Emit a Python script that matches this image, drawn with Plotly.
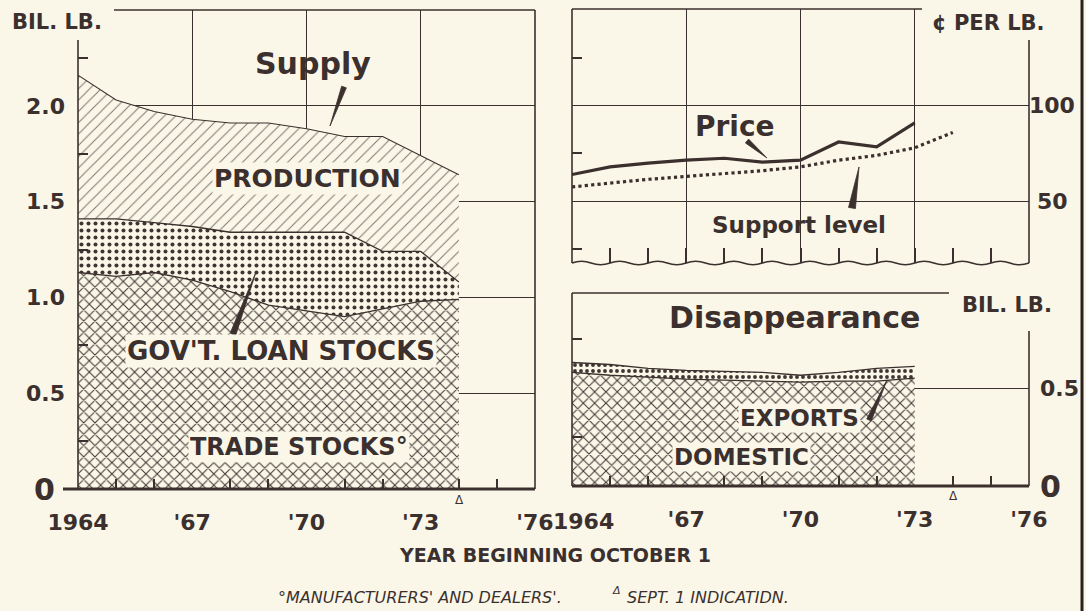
import math
import plotly.graph_objects as go

W, H = 1086, 611
BG = "#FAF7E9"
INK = "#3b302d"
FONT = "DejaVu Sans"

# ---------------- data ----------------
supply_years = [1964, 1965, 1966, 1967, 1968, 1969, 1970, 1971, 1972, 1973, 1974]
trade_stocks = [1.13, 1.11, 1.13, 1.09, 1.03, 0.96, 0.93, 0.90, 0.94, 0.98, 0.99]
gov_loan_stocks = [0.28, 0.30, 0.26, 0.28, 0.31, 0.38, 0.41, 0.44, 0.30, 0.26, 0.09]
production = [0.75, 0.62, 0.58, 0.56, 0.57, 0.57, 0.54, 0.50, 0.60, 0.50, 0.56]

price_years = [1964, 1965, 1966, 1967, 1968, 1969, 1970, 1971, 1972, 1973]
price = [64, 68, 70, 71.5, 72.5, 70.5, 71.5, 81, 78.5, 91]
support_years = [1964, 1965, 1966, 1967, 1968, 1969, 1970, 1971, 1972, 1973, 1974]
support_level = [57.5, 59.5, 61.5, 63, 64.5, 66, 68, 71.5, 74, 78, 86]

disap_years = [1964, 1965, 1966, 1967, 1968, 1969, 1970, 1971, 1972, 1973]
domestic = [0.58, 0.565, 0.555, 0.545, 0.54, 0.535, 0.53, 0.535, 0.535, 0.55]
exports = [0.05, 0.055, 0.045, 0.045, 0.045, 0.045, 0.035, 0.045, 0.065, 0.06]

x_tick_vals = [1964, 1967, 1970, 1973, 1976]
x_tick_text = ["1964", "'67", "'70", "'73", "'76"]
minor_years = [1965, 1966, 1968, 1969, 1971, 1972, 1974, 1975]
supply_tick_vals = [0, 0.5, 1.0, 1.5, 2.0]
supply_tick_text = ["0", "0.5", "1.0", "1.5", "2.0"]
price_tick_vals = [50, 100]
price_tick_text = ["50", "100"]
disap_tick_vals = [0, 0.5]
disap_tick_text = ["0", "0.5"]


def X(p):
    return p / W


def Y(p):
    return 1 - p / H


fig = go.Figure()


def stacked(x, y, group, shape, size, solidity, fg, xa, ya, name, lw=1.3):
    fig.add_trace(go.Scatter(
        x=x, y=y, name=name, mode="lines", stackgroup=group,
        line=dict(color=INK, width=lw),
        fillcolor=BG,
        fillpattern=dict(shape=shape, size=size, solidity=solidity,
                         fgcolor=fg, bgcolor=BG, fillmode="replace"),
        xaxis=xa, yaxis=ya, hoverinfo="skip", showlegend=False))


stacked(supply_years, trade_stocks, "sup", "x", 8, 0.24, "#3f3532", "x", "y", "Trade stocks")
stacked(supply_years, gov_loan_stocks, "sup", ".", 7, 0.26, "#3f3532", "x", "y", "Gov't loan stocks")
stacked(supply_years, production, "sup", "/", 8, 0.12, "#7d736e", "x", "y", "Production", lw=1.1)

stacked(disap_years, domestic, "dis", "x", 8, 0.24, "#3f3532", "x3", "y3", "Domestic")
stacked(disap_years, exports, "dis", ".", 6, 0.32, "#3f3532", "x3", "y3", "Exports")

fig.add_trace(go.Scatter(x=price_years, y=price, mode="lines", name="Price",
                         line=dict(color=INK, width=3.2), xaxis="x2", yaxis="y2",
                         hoverinfo="skip", showlegend=False))
fig.add_trace(go.Scatter(x=support_years, y=support_level, mode="lines", name="Support level",
                         line=dict(color=INK, width=3.2, dash="dot"), xaxis="x2", yaxis="y2",
                         hoverinfo="skip", showlegend=False))

tickfont = dict(family=FONT, size=22, color=INK, weight="bold")
bigfont = dict(family=FONT, size=30, color=INK, weight="bold")
common = dict(zeroline=False, automargin=False, fixedrange=True, showline=False,
              gridcolor=INK, gridwidth=1.2, tickfont=tickfont, tickcolor=INK)

fig.update_layout(
    width=W, height=H, autosize=False,
    margin=dict(l=0, r=0, t=0, b=0),
    paper_bgcolor=BG, plot_bgcolor=BG,
    font=dict(family=FONT, color=INK),
    showlegend=False,
    # left panel
    xaxis=dict(domain=[X(78), X(535)], range=[1964, 1976], anchor="y",
               tickmode="array", tickvals=x_tick_vals, ticktext=x_tick_text,
               showgrid=True, ticks="", ticklabelstandoff=18,
               minor=dict(tickmode="array", tickvals=minor_years, ticks="inside",
                          ticklen=10, tickwidth=1.5, tickcolor=INK, showgrid=False),
               **common),
    yaxis=dict(domain=[Y(489), Y(10)], range=[0, 2.5], anchor="x",
               tickmode="array", tickvals=supply_tick_vals[1:],
               ticktext=supply_tick_text[1:],
               showgrid=True, ticks="", ticklabelstandoff=12,
               minor=dict(tickmode="array", tickvals=[0.25, 0.75, 1.25, 1.75, 2.25],
                          ticks="inside", ticklen=10, tickwidth=1.5, tickcolor=INK,
                          showgrid=False),
               **common),
    yaxis4=dict(overlaying="y", side="right", anchor="x", range=[0, 2.5],
                tickmode="array", tickvals=[0.25, 0.75, 1.25, 1.75, 2.25],
                ticks="inside", ticklen=10, tickwidth=1.5, showticklabels=False,
                showgrid=False, **common),
    # top-right panel
    xaxis2=dict(domain=[X(572), X(1029)], range=[1964, 1976], anchor="y2",
                tickmode="array", tickvals=[1967, 1970, 1973], showticklabels=False,
                showgrid=True, ticks="",
                minor=dict(tickmode="array", tickvals=list(range(1965, 1976)),
                           ticks="inside", ticklen=15, tickwidth=1.5, tickcolor=INK,
                           showgrid=False),
                **common),
    yaxis2=dict(domain=[Y(263), Y(9)], range=[17.7, 150.6], anchor="x2",
                tickmode="array", tickvals=price_tick_vals, showticklabels=False,
                showgrid=True, ticks="",
                minor=dict(tickmode="array", tickvals=[25, 75, 125], ticks="inside",
                           ticklen=10, tickwidth=1.5, tickcolor=INK, showgrid=False),
                **common),
    yaxis5=dict(overlaying="y2", side="right", anchor="x2", range=[17.7, 150.6],
                tickmode="array", tickvals=[25, 75, 125], showticklabels=False,
                ticks="inside", ticklen=10, tickwidth=1.5, showgrid=False,
                **common),
    # bottom-right panel
    xaxis3=dict(domain=[X(572), X(1029)], range=[1964, 1976], anchor="y3",
                tickmode="array", tickvals=x_tick_vals[1:], ticktext=x_tick_text[1:],
                showgrid=False, ticks="", ticklabelstandoff=18,
                minor=dict(tickmode="array", tickvals=minor_years, ticks="inside",
                           ticklen=10, tickwidth=1.5, tickcolor=INK, showgrid=False),
                **common),
    xaxis6=dict(overlaying="x3", anchor="y3", range=[1964, 1976],
                tickmode="array", tickvals=[1967, 1970], showticklabels=False,
                showgrid=True, ticks="", **common),
    yaxis3=dict(domain=[Y(486), Y(290)], range=[0, 1.0], anchor="x3",
                tickmode="array", tickvals=[0.5], showticklabels=False,
                showgrid=True, ticks="",
                minor=dict(tickmode="array", tickvals=[0.25, 0.75], ticks="inside",
                           ticklen=10, tickwidth=1.5, tickcolor=INK, showgrid=False),
                **common),
    yaxis6=dict(overlaying="y3", side="right", anchor="x3", range=[0, 1.0],
                tickmode="array", tickvals=[0.25, 0.75], showticklabels=False,
                ticks="inside", ticklen=10, tickwidth=1.5, showgrid=False,
                **common),
)

# ---------------- frames & decorations (pixel -> paper) ----------------
shapes = []


def line(x0, y0, x1, y1, w=1.6, color=INK):
    shapes.append(dict(type="line", xref="paper", yref="paper",
                       x0=X(x0), y0=Y(y0), x1=X(x1), y1=Y(y1),
                       line=dict(color=color, width=w), layer="above"))


# left panel frame
line(78, 40, 78, 489)
line(114, 10, 535, 10)
line(535, 10, 535, 489)
line(63, 489, 535, 489, w=3)
# top-right frame
line(572, 9, 572, 263)
line(572, 9, 922, 9)
line(1029, 40, 1029, 263)
# bottom-right frame
line(572, 293, 949, 293)
line(572, 293, 572, 486)
line(1029, 331, 1029, 486)
line(572, 486, 1029, 486, w=3)
# scan edge bar on far right
line(1082, 0, 1082, 611, w=3, color="#2a2220")

# wavy (broken-axis) bottom line of the price panel
x0, yb = 572.0, 263.0
step = (1029 - 572) / 24.0
path = "M{:.5f},{:.5f}".format(X(x0), Y(yb))
for i in range(24):
    xa = x0 + i * step
    xm = xa + step / 2
    xe = xa + step
    dy = -3.5 if i % 2 == 0 else 3.5
    path += " Q{:.5f},{:.5f} {:.5f},{:.5f}".format(X(xm), Y(yb + dy), X(xe), Y(yb))
shapes.append(dict(type="path", xref="paper", yref="paper", path=path,
                   line=dict(color=INK, width=1.6), layer="above"))


def wedge(bx, by, tx, ty, w):
    dx, dy = tx - bx, ty - by
    L = math.hypot(dx, dy)
    nx, ny = -dy / L * w / 2, dx / L * w / 2
    p = "M{:.5f},{:.5f} L{:.5f},{:.5f} L{:.5f},{:.5f} Z".format(
        X(bx + nx), Y(by + ny), X(bx - nx), Y(by - ny), X(tx), Y(ty))
    shapes.append(dict(type="path", xref="paper", yref="paper", path=p,
                       fillcolor=INK, line=dict(color=INK, width=0.8), layer="above"))


wedge(344, 87, 330, 126, 5)      # Supply
wedge(233, 334, 256, 272, 6)     # Gov't loan stocks
wedge(747, 141, 767, 158, 5)     # Price
wedge(852, 208, 859, 167, 7)     # Support level
wedge(869, 420, 887, 380, 5)     # Exports

fig.update_layout(shapes=shapes)

# ---------------- text ----------------
ann = []


def text(t, x, y, size, bold=True, bg=None, italic=False, xanchor="center", **kw):
    d = dict(text=t, xref="paper", yref="paper", x=X(x), y=Y(y), showarrow=False,
             xanchor=xanchor, yanchor="middle",
             font=dict(family=FONT, size=size, color=INK,
                       weight="bold" if bold else "normal",
                       style="italic" if italic else "normal"))
    if bg:
        d["bgcolor"] = bg
        d["borderpad"] = 1
    d.update(kw)
    ann.append(d)


text("BIL. LB.", 57, 22, 21, bg=BG)
text("Supply", 313, 64, 30)
text("PRODUCTION", 307, 178, 25, bg=BG)
text("GOV'T. LOAN STOCKS", 281, 351, 26, bg=BG)
text("TRADE STOCKS°", 299, 447, 24, bg=BG)
text("Δ", 460, 500, 12, bold=False)
text("YEAR BEGINNING OCTOBER 1", 555, 555, 19)
text("°MANUFACTURERS' AND DEALERS'.", 276, 597, 16, bold=False, italic=True, xanchor="left")
text("Δ", 616, 590, 11, bold=False, italic=True)
text("SEPT. 1 INDICATIDN.", 625, 597, 16, bold=False, italic=True, xanchor="left")

text("¢ PER LB.", 988, 23, 21, bg=BG)
text("Price", 735, 127, 28)
text("Support level", 799, 225, 23)
text("Disappearance", 794, 317, 30, bg=BG)
text("BIL. LB.", 1007, 305, 21, bg=BG)
text("EXPORTS", 799, 418, 23, bg=BG)
text("DOMESTIC", 741, 457, 23, bg=BG)
text("Δ", 953, 496, 12, bold=False)

# big "0" label of the left scale
ann.append(dict(text=supply_tick_text[0], xref="paper", yref="y", x=X(44),
                y=supply_tick_vals[0], showarrow=False, xanchor="center",
                yanchor="middle", font=bigfont))

# right-hand value labels, placed on their own axes' scales
for v, t in zip(price_tick_vals, price_tick_text):
    ann.append(dict(text=t, xref="paper", yref="y2", x=X(1052), y=v, showarrow=False,
                    xanchor="center", yanchor="middle", font=tickfont))
for v, t in zip(disap_tick_vals, disap_tick_text):
    ann.append(dict(text=t, xref="paper", yref="y3", x=X(1038), y=v,
                    showarrow=False, xanchor="left", yanchor="middle",
                    font=bigfont if t == "0" else tickfont))

# right-panel "1964" tick label (nudged right to clear the left panel's '76)
ann.append(dict(text=x_tick_text[0], xref="x3", yref="paper", x=x_tick_vals[0], y=Y(521),
                xshift=11, showarrow=False, xanchor="center", yanchor="middle",
                font=tickfont))

fig.update_layout(annotations=ann)

fig.write_html(
    "out.html",
    config={"displayModeBar": False},
    post_script="document.body.style.margin='0';document.body.style.background='%s';"
                "document.documentElement.style.overflow='hidden';" % BG,
)
